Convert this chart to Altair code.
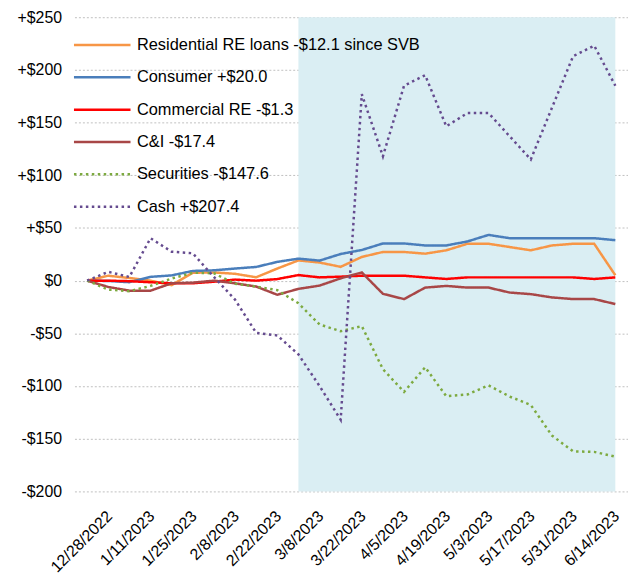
import altair as alt
import pandas as pd

dates = ["12/21/2022", "12/28/2022", "1/4/2023", "1/11/2023", "1/18/2023", "1/25/2023",
         "2/1/2023", "2/8/2023", "2/15/2023", "2/22/2023", "3/1/2023", "3/8/2023",
         "3/15/2023", "3/22/2023", "3/29/2023", "4/5/2023", "4/12/2023", "4/19/2023",
         "4/26/2023", "5/3/2023", "5/10/2023", "5/17/2023", "5/24/2023", "5/31/2023",
         "6/7/2023", "6/14/2023"]

series_names = ["Residential RE loans -$12.1 since SVB", "Consumer +$20.0",
                "Commercial RE -$1.3", "C&I -$17.4", "Securities -$147.6", "Cash +$207.4"]

residential = [0, 4.7, 2.5, 0, -4.3, 7.5, 7.8, 6.5, 3.2, 11.5, 19.2, 17.2, 13.1, 22.5,
               27.2, 27.2, 25.6, 28.8, 35.0, 35.0, 31.9, 28.8, 33.4, 35.0, 35.0, 5.1]
consumer = [0, -0.3, -1.5, 3.6, 5.0, 9.2, 9.8, 11.5, 13.0, 17.8, 20.9, 19.0, 25.3, 29.1,
            35.3, 35.3, 33.4, 33.4, 37.2, 43.4, 40.3, 40.3, 40.3, 40.3, 40.3, 38.4]
commercial = [0, 0, -0.5, -1.5, -2.5, -2.5, -1.0, 1.0, 0, 1.5, 5.3, 3.1, 3.8, 4.7,
              4.7, 4.7, 3.1, 1.6, 3.1, 3.1, 3.1, 3.1, 3.1, 3.1, 1.6, 3.1]
cni = [0, -6.0, -9.5, -9.5, -2.5, -1.9, 0, -2.5, -5.6, -13.4, -7.8, -4.7, 2.2, 7.8,
       -12.5, -17.5, -6.6, -5.0, -6.6, -6.6, -11.3, -12.8, -15.9, -17.5, -17.5, -22.2]
securities = [0, -8.5, -10, -5, 2, 7.5, 7, -3, -5.6, -9, -21.5, -41.6, -48.0, -43.1,
              -84, -105.6, -82.2, -109.7, -108, -99.4, -110, -118, -147, -162, -162.5, -167]
cash = [0, 8.4, 3.5, 40.3, 27.5, 26, 3.5, -18, -49.5, -52, -70, -100, -132, 177,
        118, 185, 195, 146.5, 159, 159, 137, 115, 164, 213, 223, 185]

colors = ["#F79646", "#4A7EBB", "#FF0000", "#A84747", "#7DAA40", "#654B8F"]
dashes = [[1, 0], [1, 0], [1, 0], [1, 0], [2.5, 3.5], [2.5, 3.5]]

shade_start, shade_end = 10, 25

all_values = [residential, consumer, commercial, cni, securities, cash]
rows = []
for name, vals in zip(series_names, all_values):
    for i, v in enumerate(vals):
        rows.append({"idx": i, "date": dates[i], "series": name, "value": v})
df = pd.DataFrame(rows)

shade_df = pd.DataFrame({"x": [shade_start], "x2": [shade_end], "y": [-200], "y2": [250]})

FONT = "Liberation Sans"
label_array = "[" + ",".join("'" + d + "'" for d in dates) + "][datum.value]"

XDOM = [-0.6, 25.6]
YDOM = [-200, 250]

x_enc = alt.X("idx:Q", scale=alt.Scale(domain=XDOM, nice=False, zero=False),
              axis=alt.Axis(values=list(range(1, 26, 2)), labelExpr=label_array,
                            labelAngle=315, labelAlign="right", labelBaseline="middle",
                            labelPadding=22, labelOffset=1, labelFontSize=16, labelFont=FONT,
                            labelColor="#000000", grid=False, domain=False, ticks=False,
                            tickSize=0, title=None, labelOverlap=False))
y_enc = alt.Y("value:Q", scale=alt.Scale(domain=YDOM, nice=False, zero=False),
              axis=alt.Axis(values=list(range(-200, 251, 50)),
                            labelExpr="datum.value > 0 ? '+$' + datum.value : (datum.value < 0 ? '-$' + abs(datum.value) : '$0')",
                            grid=True, gridDash=[2, 2], gridColor="#BFBFBF", gridWidth=1,
                            domain=False, ticks=False, tickSize=0, labelPadding=13,
                            labelFontSize=16, labelFont=FONT, labelColor="#000000", title=None))

shade = alt.Chart(shade_df).mark_rect(color="#DAEEF3").encode(
    x=alt.X("x:Q", scale=alt.Scale(domain=XDOM, nice=False, zero=False)),
    x2="x2:Q",
    y=alt.Y("y:Q", scale=alt.Scale(domain=YDOM, nice=False, zero=False)),
    y2="y2:Q",
)

legend = alt.Legend(title=None, orient="none", legendX=17, legendY=17,
                    symbolType="M-3,0H3", symbolSize=361, symbolStrokeWidth=2.5,
                    labelFontSize=16.5, labelFont=FONT, labelColor="#000000",
                    labelOffset=24, rowPadding=12.6, padding=0, labelLimit=500)

lines = alt.Chart(df).mark_line(strokeWidth=2.5).encode(
    x=x_enc,
    y=y_enc,
    color=alt.Color("series:N", scale=alt.Scale(domain=series_names, range=colors),
                    sort=series_names, legend=legend),
    strokeDash=alt.StrokeDash("series:N", scale=alt.Scale(domain=series_names, range=dashes),
                              sort=series_names, legend=legend),
    order="idx:Q",
)

chart = alt.layer(shade, lines).properties(
    width=558, height=478,
    autosize=alt.AutoSizeParams(type="none"),
    padding={"left": 67, "top": 7, "right": 0, "bottom": 84},
).configure_view(stroke=None)

chart.save("out.html", embed_options={"renderer": "svg", "actions": False})
